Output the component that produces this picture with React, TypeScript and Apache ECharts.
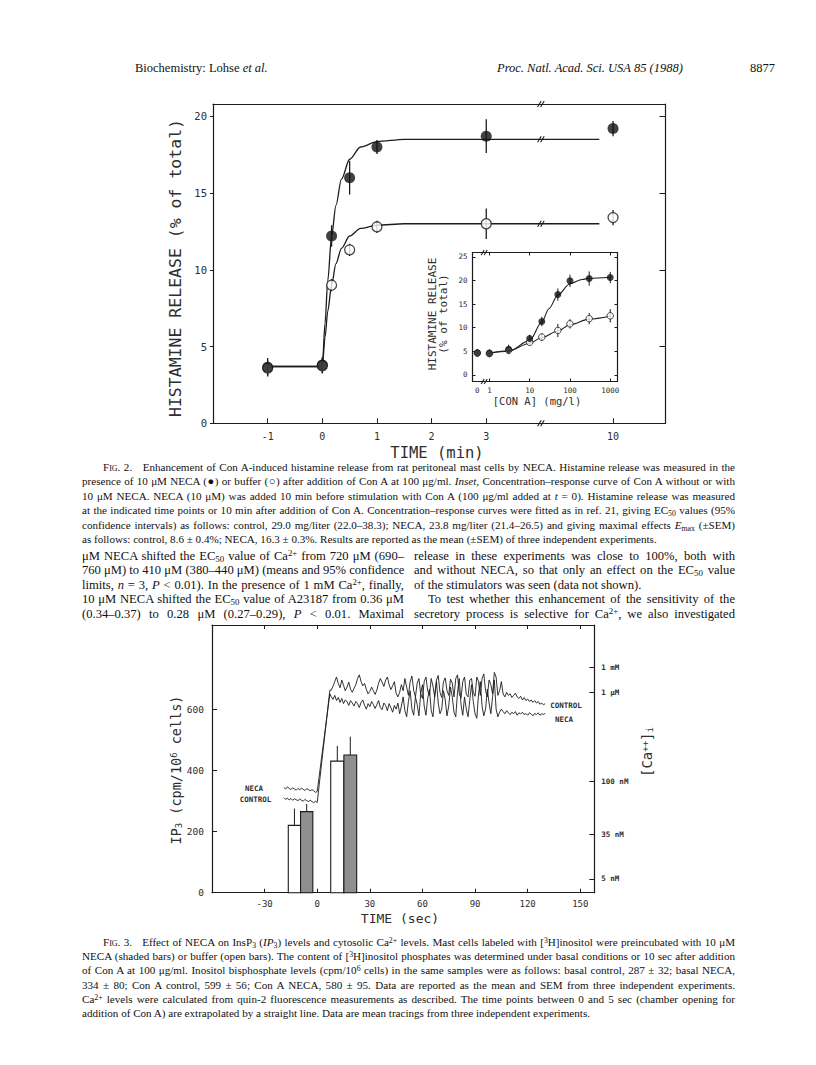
import React, { useEffect, useRef } from "react";
import * as echarts from "echarts";

// ---------- Fig. 2 main: time course ----------
const timeMin = [-1, 0, 0.17, 0.5, 1, 3, 10];
const necaRelease = [3.65, 3.8, 12.2, 16.0, 18.0, 18.7, 19.2];
const necaSem = [0.6, 0.5, 0.7, 1.1, 0.45, 1.1, 0.5];
const controlRelease = [3.6, 3.75, 9.0, 11.3, 12.8, 13.0, 13.4];
const controlSem = [0.5, 0.5, 0.4, 0.4, 0.4, 1.0, 0.5];
const curveTime = [-1, 0, 0.05, 0.1, 0.17, 0.25, 0.35, 0.5, 0.7, 1, 1.5, 3, 9.5];
const necaCurve = [3.7, 3.7, 6.5, 9.3, 12.2, 14.2, 15.9, 17.2, 18.0, 18.35, 18.5, 18.5, 18.5];
const controlCurve = [3.7, 3.7, 5.6, 7.3, 9.0, 10.4, 11.4, 12.2, 12.7, 12.9, 13.0, 13.0, 13.0];
const timeTicks = [-1, 0, 1, 2, 3, 10];
const releaseTicks = [0, 5, 10, 15, 20];

// ---------- Fig. 2 inset: concentration-response ----------
const conA = [0, 1, 3, 10, 20, 50, 100, 300, 1000];
const necaConA = [4.7, 4.6, 5.4, 7.7, 11.3, 17.0, 19.9, 20.4, 20.6];
const necaConASem = [0.8, 0.8, 1.0, 0.8, 1.0, 1.3, 1.3, 1.5, 1.2];
const controlConA = [4.6, 4.5, 5.2, 6.9, 8.0, 9.4, 10.8, 11.9, 12.5];
const controlConASem = [0.7, 0.7, 0.8, 0.5, 0.8, 1.4, 1.0, 1.2, 1.4];
const necaFitConc = [1, 3, 10, 20, 30, 50, 100, 200, 300, 1000];
const necaFit = [4.6, 5.0, 7.3, 11.2, 14.0, 16.9, 19.3, 20.2, 20.45, 20.65];
const controlFitConc = [1, 3, 10, 20, 50, 100, 300, 1000];
const controlFit = [4.6, 5.1, 6.7, 7.9, 9.3, 10.6, 11.8, 12.4];
const concTicks = [0, 1, 10, 100, 1000];
const insetTicks = [0, 5, 10, 15, 20, 25];

// ---------- Fig. 3: IP3 bars and Ca traces ----------
const ip3Ticks = [0, 200, 400, 600];
const secTicks = [-30, 0, 30, 60, 90, 120, 150];
// [start sec, end sec, IP3, top of error bar]
const openBars = [[-16.5, -9.5, 220, 275], [7.7, 15.2, 430, 480]];
const shadedBars = [[-9.5, -2.5, 265, 290], [15.2, 22.5, 450, 510]];
const caTickLabels = ["5 nM", "35 nM", "100 nM", "1 \u00b5M", "1 mM"];
const caTickPos = [45, 190, 364, 656, 737];
const baseTime = [-19, -18, -17, -16, -15, -14, -13, -12, -11, -10, -9, -8, -7, -6, -5, -4, -3, -2, -1, 0];
const necaBase = [344, 339, 346, 341, 337, 343, 339, 335, 341, 336, 342, 338, 334, 340, 337, 333, 337, 333, 328, 331];
const ctrlBase = [311, 305, 309, 303, 308, 302, 307, 304, 301, 306, 302, 299, 305, 301, 298, 302, 298, 294, 299, 295];
const riseTime = [7.2];
const necaRise = [650];
const ctrlRise = [662];
const plateauTime = [
  8, 9, 10, 11, 12, 13, 14, 15, 16, 17, 18, 19, 20, 21, 22, 23, 24, 25, 26, 27, 28, 29, 30, 31, 32, 33,
  34, 35, 36, 37, 38, 39, 40, 41, 42, 43, 44, 45, 46, 47, 48, 49, 50, 51, 52, 53, 54, 55, 56, 57, 58, 59,
  60, 61, 62, 63, 64, 65, 66, 67, 68, 69, 70, 71, 72, 73, 74, 75, 76, 77, 78, 79, 80, 81, 82, 83, 84, 85,
  86, 87, 88, 89, 90, 91, 92, 93, 94, 95, 96, 97, 98, 99, 100, 101, 102, 103, 104, 105, 106, 107, 108, 109,
  110, 111, 112, 113, 114, 115, 116, 117, 118, 119, 120, 121, 122, 123, 124, 125, 126, 127, 128, 129, 130,
];
const ctrlPlateau = [
  662, 675, 690, 705, 684, 670, 695, 678, 660, 672, 688, 665, 655,
  668, 680, 700, 712, 690, 676, 684, 665, 650, 658, 672, 660, 648,
  662, 685, 700, 688, 674, 695, 705, 680, 664, 676, 690, 652, 640,
  655, 680, 660, 700, 672, 645, 690, 708, 662, 640, 685, 700, 650,
  635, 690, 705, 660, 645, 700, 675, 640, 695, 710, 655, 638, 690,
  702, 660, 645, 698, 685, 640, 700, 712, 650, 636, 690, 705, 648,
  640, 695, 700, 655, 642, 705, 690, 645, 700, 715, 660, 640, 695,
  680, 650, 720, 705, 645, 660, 690, 650, 640, 655, 645, 650, 638,
  645, 652, 640, 635, 642, 630, 638, 628, 633, 625, 630, 622, 628,
  620, 625, 616, 620, 614, 618,
];
const necaPlateau = [
  640, 632, 645, 628, 638, 622, 635, 618, 630, 625, 612, 628, 620,
  610, 625, 618, 605, 622, 630, 612, 600, 618, 608, 625, 615, 602,
  615, 628, 605, 598, 620, 612, 595, 618, 605, 590, 612, 600, 620,
  585, 610, 640, 595, 575, 625, 660, 600, 580, 640, 615, 578, 650,
  680, 610, 580, 635, 665, 595, 575, 645, 690, 620, 585, 600, 660,
  630, 578, 610, 672, 640, 590, 575, 655, 700, 615, 580, 640, 600,
  575, 630, 680, 625, 585, 570, 650, 690, 610, 578, 600, 665, 620,
  585, 640, 695, 600, 575, 590, 600, 592, 585, 595, 588, 582, 590,
  585, 592, 580, 588, 584, 590, 582, 586, 580, 588, 584, 578, 586,
  582, 588, 580, 585, 583, 586,
];

const MONO = '"DejaVu Sans Mono", monospace';
const SERIF = '"Liberation Serif", "Times New Roman", serif';
const INK = "#1c1c1c";
const TXT = "#2e2e2e";

function mapT(t: number) {
  return t <= 3 ? t : 5.32 - (10 - t) * 0.5;
}
function mapC(c: number) {
  return c === 0 ? -0.3 : Math.log10(c);
}

function errorSeries(xi: number, yi: number, pts: number[][], w: number) {
  return {
    type: "custom",
    xAxisIndex: xi,
    yAxisIndex: yi,
    z: 3,
    silent: true,
    data: pts,
    renderItem: (_p: any, api: any) => {
      const a = api.coord([api.value(0), api.value(1)]);
      const b = api.coord([api.value(0), api.value(2)]);
      return { type: "line", shape: { x1: a[0], y1: a[1], x2: b[0], y2: b[1] }, style: { stroke: INK, lineWidth: w } };
    },
  };
}

function breakSeries(xi: number, yi: number, pts: number[][], s: number) {
  return {
    type: "custom",
    xAxisIndex: xi,
    yAxisIndex: yi,
    z: 6,
    silent: true,
    data: pts,
    renderItem: (_p: any, api: any) => {
      const c = api.coord([api.value(0), api.value(1)]);
      return {
        type: "group",
        children: [-1.5, 1.5].map((o) => ({
          type: "line",
          shape: { x1: c[0] + o - s * 0.6, y1: c[1] + s, x2: c[0] + o + s * 0.6, y2: c[1] - s },
          style: { stroke: INK, lineWidth: 1.1 },
        })),
      };
    },
  };
}

function barSeries(data: number[][], fill: string) {
  return {
    type: "custom",
    xAxisIndex: 4,
    yAxisIndex: 4,
    z: 3,
    silent: true,
    data,
    renderItem: (_p: any, api: any) => {
      const a = api.coord([api.value(0), api.value(2)]);
      const b = api.coord([api.value(1), 0]);
      const e = api.coord([api.value(0), api.value(3)]);
      const cx = (a[0] + b[0]) / 2;
      return {
        type: "group",
        children: [
          { type: "rect", shape: { x: a[0], y: a[1], width: b[0] - a[0], height: b[1] - a[1] }, style: { fill, stroke: INK, lineWidth: 1.1 } },
          { type: "line", shape: { x1: cx, y1: a[1], x2: cx, y2: e[1] }, style: { stroke: INK, lineWidth: 1 } },
        ],
      };
    },
  };
}

function axis(extra: any) {
  return {
    type: "value",
    splitLine: { show: false },
    axisLine: { show: true, onZero: false, lineStyle: { color: INK, width: 1.2 } },
    axisTick: { show: false },
    axisLabel: { show: false },
    ...extra,
  };
}

function labelFmt(pos: number[], labels: string[]) {
  return (v: number) => {
    for (let i = 0; i < pos.length; i++) if (Math.abs(pos[i] - v) < 1e-6) return labels[i];
    return "";
  };
}

function buildOption() {
  const tPos = timeTicks.map(mapT);
  const cPos = concTicks.map(mapC);
  const tickLab = (size: number) => ({ color: TXT, fontFamily: MONO, fontSize: size });

  const xAxis = [
    axis({
      gridIndex: 0, position: "bottom", min: -2, max: 6.28,
      axisTick: { show: true, inside: true, length: 5, customValues: tPos, lineStyle: { color: INK } },
      axisLabel: { show: true, customValues: tPos, margin: 8, formatter: labelFmt(tPos, timeTicks.map(String)), ...tickLab(10) },
    }),
    axis({ gridIndex: 0, position: "top", min: -2, max: 6.28 }),
    axis({
      gridIndex: 1, position: "bottom", min: -0.42, max: 3.18,
      axisTick: { show: true, inside: true, length: 3, customValues: cPos.slice(1), lineStyle: { color: INK } },
      axisLabel: { show: true, customValues: cPos, margin: 5, formatter: labelFmt(cPos, concTicks.map(String)), ...tickLab(7.5) },
    }),
    axis({
      gridIndex: 1, position: "top", min: -0.42, max: 3.18,
      axisTick: { show: true, inside: true, length: 3, customValues: cPos.slice(1), lineStyle: { color: INK } },
    }),
    axis({
      gridIndex: 2, position: "bottom", min: -60, max: 158,
      axisTick: { show: true, inside: true, length: 4, customValues: secTicks, lineStyle: { color: INK } },
      axisLabel: { show: true, customValues: secTicks, margin: 7, formatter: labelFmt(secTicks, secTicks.map(String)), ...tickLab(9) },
    }),
    axis({
      gridIndex: 2, position: "top", min: -60, max: 158,
      axisTick: { show: true, inside: true, length: 4, customValues: secTicks, lineStyle: { color: INK } },
    }),
  ];

  const yAxis = [
    axis({
      gridIndex: 0, position: "left", min: 0, max: 20.8,
      axisTick: { show: true, inside: false, length: 3, customValues: releaseTicks, lineStyle: { color: INK } },
      axisLabel: { show: true, customValues: releaseTicks, margin: 6, formatter: labelFmt(releaseTicks, releaseTicks.map(String)), ...tickLab(10.5) },
    }),
    axis({
      gridIndex: 0, position: "right", min: 0, max: 20.8,
      axisTick: { show: true, inside: true, length: 6, customValues: releaseTicks.slice(1), lineStyle: { color: INK } },
    }),
    axis({
      gridIndex: 1, position: "left", min: -1.4, max: 25.9,
      axisTick: { show: true, inside: true, length: 3, customValues: insetTicks, lineStyle: { color: INK } },
      axisLabel: { show: true, customValues: insetTicks, margin: 5, formatter: labelFmt(insetTicks, insetTicks.map(String)), ...tickLab(7.5) },
    }),
    axis({
      gridIndex: 1, position: "right", min: -1.4, max: 25.9,
      axisTick: { show: true, inside: true, length: 3, customValues: insetTicks, lineStyle: { color: INK } },
    }),
    axis({
      gridIndex: 2, position: "left", min: 0, max: 875,
      axisTick: { show: true, inside: true, length: 5, customValues: ip3Ticks, lineStyle: { color: INK } },
      axisLabel: { show: true, customValues: ip3Ticks, margin: 8, formatter: labelFmt(ip3Ticks, ip3Ticks.map(String)), ...tickLab(9.5) },
    }),
    axis({
      gridIndex: 2, position: "right", min: 0, max: 875,
      axisTick: { show: true, inside: true, length: 5, customValues: caTickPos, lineStyle: { color: INK } },
      axisLabel: { show: true, customValues: caTickPos, margin: 7, formatter: labelFmt(caTickPos, caTickLabels), color: TXT, fontFamily: MONO, fontSize: 7.5, fontWeight: "bold" },
    }),
  ];

  const lineStyle = (w: number) => ({ color: INK, width: w });

  const series: any[] = [
    // Fig. 2 fitted curves
    { type: "line", xAxisIndex: 0, yAxisIndex: 0, z: 2, silent: true, showSymbol: false, smooth: 0.3, smoothMonotone: "x",
      data: curveTime.map((t, i) => [mapT(t), necaCurve[i]]), lineStyle: lineStyle(1.3) },
    { type: "line", xAxisIndex: 0, yAxisIndex: 0, z: 2, silent: true, showSymbol: false, smooth: 0.3, smoothMonotone: "x",
      data: curveTime.map((t, i) => [mapT(t), controlCurve[i]]), lineStyle: lineStyle(1.3) },
    errorSeries(0, 0, timeMin.map((t, i) => [mapT(t), controlRelease[i] - controlSem[i], controlRelease[i] + controlSem[i]]), 1.3),
    errorSeries(0, 0, timeMin.map((t, i) => [mapT(t), necaRelease[i] - necaSem[i], necaRelease[i] + necaSem[i]]), 1.3),
    { type: "scatter", xAxisIndex: 0, yAxisIndex: 0, z: 4, silent: true, symbolSize: 10,
      itemStyle: { color: "#fff", borderColor: INK, borderWidth: 1.3 },
      data: timeMin.map((t, i) => [mapT(t), controlRelease[i]]) },
    { type: "scatter", xAxisIndex: 0, yAxisIndex: 0, z: 5, silent: true, symbolSize: 11,
      itemStyle: { color: "#111" },
      data: timeMin.map((t, i) => [mapT(t), necaRelease[i]]) },
    breakSeries(0, 0, [[4, 18.5], [4, 13.0], [4, 0], [4, 20.8]], 3),

    // Inset
    { type: "line", xAxisIndex: 2, yAxisIndex: 2, z: 2, silent: true, showSymbol: false, smooth: 0.3, smoothMonotone: "x",
      data: necaFitConc.map((c, i) => [mapC(c), necaFit[i]]), lineStyle: lineStyle(1.1) },
    { type: "line", xAxisIndex: 2, yAxisIndex: 2, z: 2, silent: true, showSymbol: false, smooth: 0.3, smoothMonotone: "x",
      data: controlFitConc.map((c, i) => [mapC(c), controlFit[i]]), lineStyle: lineStyle(1.1) },
    errorSeries(2, 2, conA.map((c, i) => [mapC(c), controlConA[i] - controlConASem[i], controlConA[i] + controlConASem[i]]), 1),
    errorSeries(2, 2, conA.map((c, i) => [mapC(c), necaConA[i] - necaConASem[i], necaConA[i] + necaConASem[i]]), 1),
    { type: "scatter", xAxisIndex: 2, yAxisIndex: 2, z: 4, silent: true, symbolSize: 6.5,
      itemStyle: { color: "#fff", borderColor: INK, borderWidth: 1 },
      data: conA.map((c, i) => [mapC(c), controlConA[i]]) },
    { type: "scatter", xAxisIndex: 2, yAxisIndex: 2, z: 5, silent: true, symbolSize: 7,
      itemStyle: { color: "#111" },
      data: conA.map((c, i) => [mapC(c), necaConA[i]]) },
    breakSeries(2, 2, [[-0.13, 25.9], [-0.13, -1.4]], 2.5),

    // Fig. 3 bars
    barSeries(openBars, "#ffffff"),
    barSeries(shadedBars, "#8f8f8f"),
    // Fig. 3 Ca traces
    { type: "line", xAxisIndex: 4, yAxisIndex: 5, z: 2, silent: true, showSymbol: false,
      data: [...baseTime.map((t, i) => [t, ctrlBase[i]]), ...riseTime.map((t, i) => [t, ctrlRise[i]]), ...plateauTime.map((t, i) => [t, ctrlPlateau[i]])],
      lineStyle: lineStyle(0.9) },
    { type: "line", xAxisIndex: 4, yAxisIndex: 5, z: 2, silent: true, showSymbol: false,
      data: [...baseTime.map((t, i) => [t, necaBase[i]]), ...riseTime.map((t, i) => [t, necaRise[i]]), ...plateauTime.map((t, i) => [t, necaPlateau[i]])],
      lineStyle: lineStyle(0.9) },
  ];

  const txt = (x: number, y: number, text: string, size: number, rot = 0, extra: any = {}) => ({
    type: "text", x, y, rotation: rot, silent: true,
    style: { text, fontSize: size, fontFamily: MONO, fill: TXT, align: "center", verticalAlign: "middle", ...extra },
  });
  const R = Math.PI / 2;
  const rich = {
    sub: { fontSize: 9, fontFamily: MONO, fill: TXT, verticalAlign: "bottom" },
    sup: { fontSize: 9, fontFamily: MONO, fill: TXT, verticalAlign: "top" },
  };

  const graphic = [
    txt(175, 268, "HISTAMINE RELEASE (% of total)", 16.5, R),
    txt(437, 453, "TIME (min)", 15.5),
    txt(432, 314, "HISTAMINE RELEASE", 11, R),
    txt(443.5, 314, "(% of total)", 11, R),
    txt(537, 401, "[CON A] (mg/l)", 10.5),
    txt(176, 770, "IP{sub|3} (cpm/10{sup|6} cells)", 13.5, R, { rich }),
    txt(400, 918, "TIME (sec)", 13),
    txt(647, 752, "[Ca{sup|++}]{sub|i}", 14, R, { rich }),
    txt(254, 788, "NECA", 7.5, 0, { fontWeight: "bold" }),
    txt(255.5, 799.5, "CONTROL", 7.5, 0, { fontWeight: "bold" }),
    txt(566, 705, "CONTROL", 7.5, 0, { fontWeight: "bold" }),
    txt(564, 719, "NECA", 7.5, 0, { fontWeight: "bold" }),
  ];

  return {
    animation: false,
    backgroundColor: "transparent",
    grid: [
      { left: 213, top: 104, width: 452.5, height: 319.3, outerBoundsMode: "none", containLabel: false },
      { left: 472.5, top: 252.5, width: 145, height: 129, outerBoundsMode: "none", containLabel: false },
      { left: 212, top: 625, width: 382.3, height: 267.7, outerBoundsMode: "none", containLabel: false },
    ],
    xAxis,
    yAxis,
    series,
    graphic,
  };
}

type LineProps = { x: number; y: number; w: number; size: number; j?: boolean; children: React.ReactNode };
const TL = ({ x, y, w, size, j = true, children }: LineProps) => (
  <div
    style={{
      position: "absolute", left: x, top: y - size * 0.65, width: w, fontSize: size,
      lineHeight: `${size * 1.3}px`, whiteSpace: "nowrap", textAlign: j ? "justify" : "left",
      textAlignLast: j ? "justify" : "left", fontFamily: SERIF, color: "#111",
    }}
  >
    {children}
  </div>
);
const Sub = ({ children }: { children: React.ReactNode }) => (
  <sub style={{ fontSize: "70%", lineHeight: 0, verticalAlign: "-0.25em" }}>{children}</sub>
);
const Sup = ({ children }: { children: React.ReactNode }) => (
  <sup style={{ fontSize: "70%", lineHeight: 0, verticalAlign: "0.4em" }}>{children}</sup>
);
const SC = ({ children }: { children: React.ReactNode }) => <span style={{ fontVariant: "small-caps" }}>{children}</span>;

export default function App() {
  const ref = useRef<HTMLDivElement>(null);
  useEffect(() => {
    if (!ref.current) return;
    const chart = echarts.init(ref.current, undefined, { renderer: "svg" });
    chart.setOption(buildOption() as any);
    return () => chart.dispose();
  }, []);

  const cap = 11.1;
  const body = 12.6;
  const c2 = [467, 481.5, 496, 510.5, 525, 539.5];
  const bl = [556, 570.5, 585, 599.5, 614];
  const c3 = [942, 956.3, 970.6, 984.9, 999.2, 1013.5];

  return (
    <div style={{ position: "absolute", left: 0, top: 0, width: 816, height: 1065, background: "#fff", overflow: "hidden" }}>
      <div ref={ref} style={{ position: "absolute", left: 0, top: 0, width: 816, height: 1065 }} />

      <TL x={135} y={68} w={200} size={12.5} j={false}>Biochemistry: Lohse <i>et al.</i></TL>
      <TL x={497} y={68} w={250} size={12.5} j={false}><i>Proc. Natl. Acad. Sci. USA 85 (1988)</i></TL>
      <TL x={750} y={68} w={40} size={12.5} j={false}>8877</TL>

      <TL x={103} y={c2[0]} w={632} size={cap}><SC>Fig. 2.</SC>{"\u00a0\u00a0\u00a0"}Enhancement of Con A-induced histamine release from rat peritoneal mast cells by NECA. Histamine release was measured in the</TL>
      <TL x={82} y={c2[1]} w={653} size={cap}>presence of 10 μM NECA (●) or buffer (○) after addition of Con A at 100 μg/ml. <i>Inset</i>, Concentration–response curve of Con A without or with</TL>
      <TL x={82} y={c2[2]} w={653} size={cap}>10 μM NECA. NECA (10 μM) was added 10 min before stimulation with Con A (100 μg/ml added at <i>t</i> = 0). Histamine release was measured</TL>
      <TL x={82} y={c2[3]} w={653} size={cap}>at the indicated time points or 10 min after addition of Con A. Concentration–response curves were fitted as in ref. 21, giving EC<Sub>50</Sub> values (95%</TL>
      <TL x={82} y={c2[4]} w={653} size={cap}>confidence intervals) as follows: control, 29.0 mg/liter (22.0–38.3); NECA, 23.8 mg/liter (21.4–26.5) and giving maximal effects <i>E</i><Sub>max</Sub> (±SEM)</TL>
      <TL x={82} y={c2[5]} w={653} size={cap} j={false}>as follows: control, 8.6 ± 0.4%; NECA, 16.3 ± 0.3%. Results are reported as the mean (±SEM) of three independent experiments.</TL>

      <TL x={82} y={bl[0]} w={322} size={body}>μM NECA shifted the EC<Sub>50</Sub> value of Ca<Sup>2+</Sup> from 720 μM (690–</TL>
      <TL x={82} y={bl[1]} w={322} size={body}>760 μM) to 410 μM (380–440 μM) (means and 95% confidence</TL>
      <TL x={82} y={bl[2]} w={322} size={body}>limits, <i>n</i> = 3, <i>P</i> &lt; 0.01). In the presence of 1 mM Ca<Sup>2+</Sup>, finally,</TL>
      <TL x={82} y={bl[3]} w={322} size={body}>10 μM NECA shifted the EC<Sub>50</Sub> value of A23187 from 0.36 μM</TL>
      <TL x={82} y={bl[4]} w={322} size={body}>(0.34–0.37) to 0.28 μM (0.27–0.29), <i>P</i> &lt; 0.01. Maximal</TL>

      <TL x={414} y={bl[0]} w={321} size={body}>release in these experiments was close to 100%, both with</TL>
      <TL x={414} y={bl[1]} w={321} size={body}>and without NECA, so that only an effect on the EC<Sub>50</Sub> value</TL>
      <TL x={414} y={bl[2]} w={321} size={body} j={false}>of the stimulators was seen (data not shown).</TL>
      <TL x={428} y={bl[3]} w={307} size={body}>To test whether this enhancement of the sensitivity of the</TL>
      <TL x={414} y={bl[4]} w={321} size={body}>secretory process is selective for Ca<Sup>2+</Sup>, we also investigated</TL>

      <TL x={103} y={c3[0]} w={632} size={cap}><SC>Fig. 3.</SC>{"\u00a0\u00a0\u00a0"}Effect of NECA on InsP<Sub>3</Sub> (<i>IP</i><Sub>3</Sub>) levels and cytosolic Ca<Sup>2+</Sup> levels. Mast cells labeled with [<Sup>3</Sup>H]inositol were preincubated with 10 μM</TL>
      <TL x={82} y={c3[1]} w={653} size={cap}>NECA (shaded bars) or buffer (open bars). The content of [<Sup>3</Sup>H]inositol phosphates was determined under basal conditions or 10 sec after addition</TL>
      <TL x={82} y={c3[2]} w={653} size={cap}>of Con A at 100 μg/ml. Inositol bisphosphate levels (cpm/10<Sup>6</Sup> cells) in the same samples were as follows: basal control, 287 ± 32; basal NECA,</TL>
      <TL x={82} y={c3[3]} w={653} size={cap}>334 ± 80; Con A control, 599 ± 56; Con A NECA, 580 ± 95. Data are reported as the mean and SEM from three independent experiments.</TL>
      <TL x={82} y={c3[4]} w={653} size={cap}>Ca<Sup>2+</Sup> levels were calculated from quin-2 fluorescence measurements as described. The time points between 0 and 5 sec (chamber opening for</TL>
      <TL x={82} y={c3[5]} w={653} size={cap} j={false}>addition of Con A) are extrapolated by a straight line. Data are mean tracings from three independent experiments.</TL>
    </div>
  );
}
